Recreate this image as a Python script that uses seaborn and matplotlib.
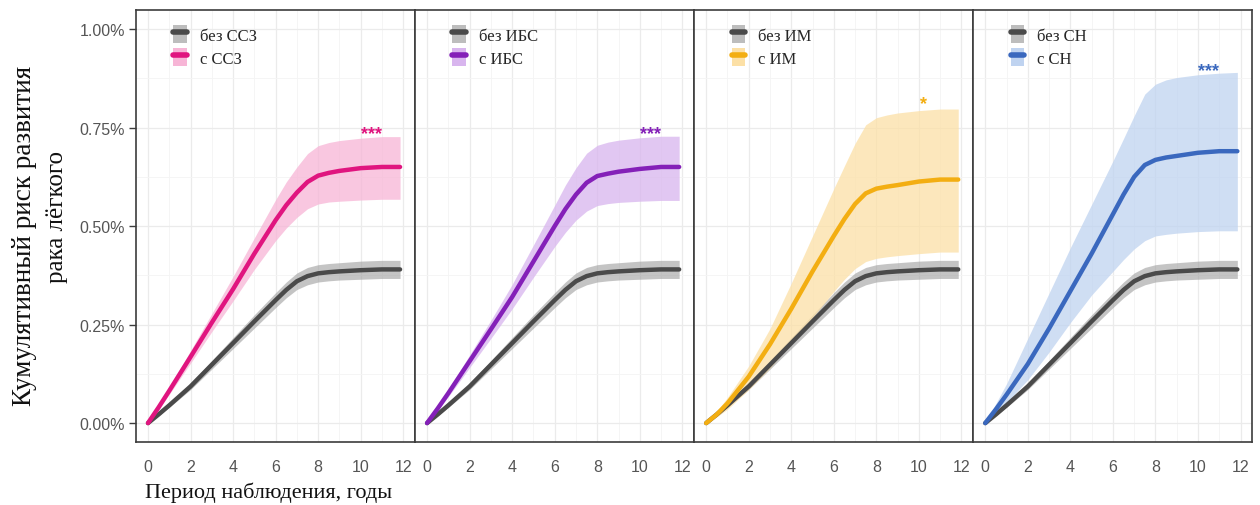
import numpy as np
import pandas as pd
import matplotlib
matplotlib.use("Agg")
import matplotlib.pyplot as plt
import seaborn as sns
from matplotlib.patches import Patch
from matplotlib.lines import Line2D
from matplotlib.ticker import MultipleLocator, FuncFormatter

# время наблюдения, годы
t = [0, 0.5, 1, 2, 3, 4, 5, 6, 6.5, 7, 7.5, 8, 8.5, 9, 10, 11, 11.85]

# без заболевания (одинаково во всех панелях), %
gray = [0, 0.022, 0.045, 0.093, 0.148, 0.203, 0.258, 0.312, 0.338, 0.36, 0.373, 0.38, 0.383, 0.385, 0.388, 0.39, 0.39]
gray_lo = [0, 0.019, 0.04, 0.085, 0.137, 0.189, 0.241, 0.293, 0.318, 0.339, 0.351, 0.358, 0.361, 0.363, 0.365, 0.367, 0.367]
gray_hi = [0, 0.025, 0.05, 0.101, 0.159, 0.217, 0.275, 0.331, 0.358, 0.381, 0.395, 0.402, 0.405, 0.407, 0.411, 0.413, 0.413]

ssz = [0, 0.04, 0.082, 0.168, 0.255, 0.34, 0.43, 0.515, 0.553, 0.585, 0.612, 0.628, 0.635, 0.64, 0.647, 0.65, 0.65]
ssz_lo = [0, 0.035, 0.073, 0.152, 0.232, 0.31, 0.39, 0.463, 0.495, 0.522, 0.544, 0.556, 0.561, 0.563, 0.566, 0.568, 0.568]
ssz_hi = [0, 0.045, 0.091, 0.184, 0.278, 0.372, 0.47, 0.567, 0.612, 0.65, 0.684, 0.704, 0.712, 0.717, 0.723, 0.727, 0.727]

ibs = [0, 0.037, 0.076, 0.157, 0.238, 0.32, 0.41, 0.5, 0.543, 0.58, 0.61, 0.627, 0.633, 0.638, 0.645, 0.65, 0.65]
ibs_lo = [0, 0.032, 0.067, 0.141, 0.215, 0.29, 0.37, 0.448, 0.484, 0.515, 0.538, 0.552, 0.557, 0.56, 0.563, 0.565, 0.565]
ibs_hi = [0, 0.042, 0.085, 0.173, 0.261, 0.352, 0.452, 0.553, 0.604, 0.648, 0.685, 0.705, 0.713, 0.718, 0.724, 0.728, 0.728]

im = [0, 0.022, 0.05, 0.118, 0.2, 0.29, 0.385, 0.475, 0.518, 0.556, 0.583, 0.595, 0.6, 0.604, 0.613, 0.618, 0.618]
im_lo = [0, 0.016, 0.035, 0.085, 0.14, 0.205, 0.268, 0.334, 0.365, 0.392, 0.41, 0.418, 0.422, 0.425, 0.43, 0.434, 0.434]
im_hi = [0, 0.03, 0.065, 0.145, 0.24, 0.355, 0.475, 0.595, 0.653, 0.71, 0.757, 0.775, 0.782, 0.787, 0.793, 0.797, 0.797]

sn = [0, 0.035, 0.072, 0.15, 0.24, 0.335, 0.43, 0.53, 0.58, 0.625, 0.655, 0.668, 0.674, 0.678, 0.686, 0.69, 0.69]
sn_lo = [0, 0.025, 0.052, 0.11, 0.18, 0.255, 0.325, 0.385, 0.415, 0.442, 0.463, 0.475, 0.479, 0.482, 0.486, 0.488, 0.488]
sn_hi = [0, 0.05, 0.1, 0.215, 0.33, 0.445, 0.555, 0.665, 0.722, 0.78, 0.835, 0.86, 0.871, 0.877, 0.884, 0.888, 0.89]

panels = ["ССЗ", "ИБС", "ИМ", "СН"]
colors = ["#E0157F", "#8420B8", "#F3AE12", "#3A68BE"]
fills = ["#F7B5D6", "#D8B5EE", "#FCE0A6", "#BFD3F0"]
series = [(ssz, ssz_lo, ssz_hi), (ibs, ibs_lo, ibs_hi), (im, im_lo, im_hi), (sn, sn_lo, sn_hi)]
stars = ["***", "***", "*", "***"]
star_pos = [(10.5, 0.735), (10.5, 0.735), (10.2, 0.81), (10.5, 0.895)]

sns.set_theme(style="white")
plt.rcParams["font.family"] = ["Liberation Sans", "DejaVu Sans"]

fig, axes = plt.subplots(1, 4, figsize=(12.6, 5.06), dpi=100, sharey=True)
fig.subplots_adjust(left=0.108, right=0.994, top=0.978, bottom=0.1245, wspace=0)

for i, ax in enumerate(axes):
    val, lo, hi = series[i]
    ax.fill_between(t, gray_lo, gray_hi, color="#9E9E9E", alpha=0.6, lw=0, zorder=2)
    ax.fill_between(t, lo, hi, color=fills[i], alpha=0.75, lw=0, zorder=2)
    sns.lineplot(x=t, y=gray, ax=ax, color="#4A4A4A", lw=3.2, zorder=3)
    sns.lineplot(x=t, y=val, ax=ax, color=colors[i], lw=3.2, zorder=4)
    ax.text(star_pos[i][0], star_pos[i][1], stars[i], color=colors[i], fontsize=13,
            fontweight="bold", ha="center", va="center")

    ax.set_xlim(-0.56, 12.56)
    ax.set_ylim(-0.048, 1.048)
    ax.xaxis.set_major_locator(MultipleLocator(2))
    ax.xaxis.set_minor_locator(MultipleLocator(1))
    ax.yaxis.set_major_locator(MultipleLocator(0.25))
    ax.yaxis.set_minor_locator(MultipleLocator(0.125))
    ax.grid(which="major", color="#EBEBEB", lw=0.9, zorder=0)
    ax.grid(which="minor", color="#F4F4F4", lw=0.6, zorder=0)
    ax.set_axisbelow(True)
    for s in ax.spines.values():
        s.set_color("#3C3C3C")
        s.set_linewidth(1.2)
    ax.tick_params(axis="both", which="major", direction="out", length=5, width=1,
                   color="#3C3C3C", labelcolor="#555555", labelsize=11.5, pad=3)
    ax.tick_params(axis="x", which="major", pad=7)
    ax.tick_params(axis="both", which="minor", length=0)
    if i == 0:
        ax.yaxis.set_major_formatter(FuncFormatter(lambda v, p: f"{v:.2f}%"))
        ax.tick_params(axis="y", left=True)
    else:
        ax.tick_params(axis="y", left=False, labelleft=False)
    ax.set_xlabel("")
    ax.set_ylabel("")

    handles = [
        (Patch(color="#BDBDBD", lw=0), Line2D([], [], color="#4A4A4A", lw=4)),
        (Patch(color=fills[i], lw=0), Line2D([], [], color=colors[i], lw=4)),
    ]
    ax.legend(handles, ["без " + panels[i], "с " + panels[i]], loc="upper left",
              bbox_to_anchor=(0.08, 1.0), frameon=False, handlelength=0.8,
              handleheight=1.3, handletextpad=0.8, labelspacing=0.25,
              prop={"family": "Liberation Serif", "size": 12})

fig.text(0.0198, 0.534, "Кумулятивный риск развития", rotation=90,
         ha="center", va="center", family="Liberation Serif", fontsize=19.5,
         color="#111111")
fig.text(0.045, 0.572, "рака лёгкого", rotation=90,
         ha="center", va="center", family="Liberation Serif", fontsize=18,
         color="#111111")
fig.text(0.115, 0.026, "Период наблюдения, годы", ha="left", va="center",
         family="Liberation Serif", fontsize=16, color="#111111")

fig.savefig("out.png", dpi=100)
